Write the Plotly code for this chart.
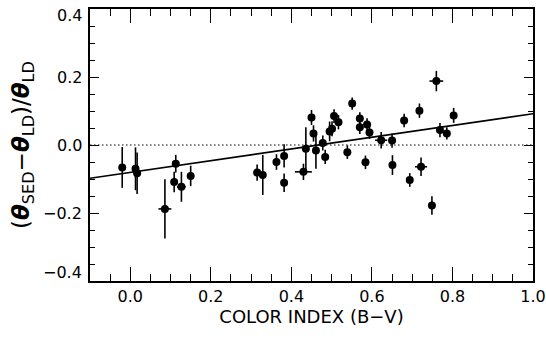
import plotly.graph_objects as go

color_index = [-0.020, 0.013, 0.017, 0.086, 0.113, 0.109, 0.127, 0.150,
               0.315, 0.329, 0.363, 0.382, 0.382, 0.430, 0.436, 0.450,
               0.455, 0.461, 0.478, 0.484, 0.495, 0.501, 0.506, 0.517,
               0.539, 0.551, 0.570, 0.570, 0.584, 0.588, 0.594, 0.623,
               0.650, 0.651, 0.680, 0.694, 0.718, 0.722, 0.749, 0.760,
               0.769, 0.786, 0.803]
rel_diff = [-0.066, -0.070, -0.083, -0.188, -0.055, -0.109, -0.123, -0.091,
            -0.081, -0.088, -0.050, -0.032, -0.111, -0.079, -0.011, 0.081,
            0.034, -0.016, 0.006, -0.035, 0.040, 0.048, 0.085, 0.067,
            -0.021, 0.122, 0.078, 0.052, -0.051, 0.060, 0.037, 0.014,
            0.013, -0.059, 0.072, -0.103, 0.101, -0.064, -0.178, 0.188,
            0.044, 0.034, 0.087]
rel_err = [0.060, 0.063, 0.061, 0.087, 0.026, 0.030, 0.044, 0.030,
           0.024, 0.059, 0.023, 0.034, 0.027, 0.024, 0.063, 0.022,
           0.024, 0.054, 0.022, 0.021, 0.029, 0.022, 0.020, 0.021,
           0.020, 0.018, 0.018, 0.020, 0.020, 0.019, 0.019, 0.024,
           0.021, 0.029, 0.020, 0.020, 0.021, 0.027, 0.027, 0.030,
           0.021, 0.018, 0.022]
ci_err = [0, 0, 0, 0.016, 0, 0, 0.011, 0,
          0, 0, 0, 0, 0, 0.021, 0, 0,
          0, 0, 0, 0, 0, 0, 0, 0,
          0, 0, 0, 0, 0, 0, 0, 0.015,
          0, 0, 0, 0, 0, 0.015, 0, 0.017,
          0, 0, 0]
fit_x = [-0.1, 1.0]
fit_y = [-0.098, 0.092]
zero_x = [-0.1, 1.0]
zero_y = [0.0, 0.0]

x_ticks = [0.0, 0.2, 0.4, 0.6, 0.8, 1.0]
x_ticktext = ["0.0", "0.2", "0.4", "0.6", "0.8", "1.0"]
y_ticks = [-0.4, -0.2, 0.0, 0.2, 0.4]
y_ticktext = ["\u22120.4", "\u22120.2", "0.0", "0.2", "0.4"]

FONT = "DejaVu Sans, Liberation Sans, Arial, sans-serif"

fig = go.Figure()
fig.add_trace(go.Scatter(x=zero_x, y=zero_y, mode="lines",
                         line=dict(color="black", width=1.2, dash="1.5px,2.5px"),
                         showlegend=False, hoverinfo="skip"))
fig.add_trace(go.Scatter(x=fit_x, y=fit_y, mode="lines",
                         line=dict(color="black", width=1.6),
                         showlegend=False, hoverinfo="skip"))
fig.add_trace(go.Scatter(
    x=color_index, y=rel_diff, mode="markers",
    marker=dict(color="black", size=8),
    error_y=dict(type="data", array=rel_err, color="black", thickness=1.6, width=0),
    error_x=dict(type="data", array=ci_err, color="black", thickness=1.6, width=0),
    showlegend=False))

common = dict(showline=True, linecolor="black", linewidth=1.5, showgrid=False,
              zeroline=False, ticks="inside", tickcolor="black", tickwidth=1.2,
              mirror="allticks", automargin=False)

fig.update_layout(
    width=546, height=338,
    margin=dict(l=90, r=13, t=9, b=57),
    paper_bgcolor="white", plot_bgcolor="white",
    font=dict(family=FONT, size=16, color="black"),
    xaxis=dict(range=[-0.1, 1.0], tickvals=x_ticks, ticktext=x_ticktext,
               tickfont=dict(size=16),
               ticklen=14, minor=dict(dtick=0.05, ticklen=7, ticks="inside",
                                      tickcolor="black", tickwidth=1.2),
               title=dict(text="COLOR INDEX (B\u2212V)", standoff=4,
                          font=dict(size=18)),
               **common),
    yaxis=dict(range=[-0.4, 0.4], tickvals=y_ticks, showticklabels=False,
               ticklen=9, minor=dict(dtick=0.05, ticklen=5, ticks="inside",
                                     tickcolor="black", tickwidth=1.2),
               title=dict(text="(<b><i>\u03b8</i></b><sub>SED</sub>\u2212<b><i>\u03b8</i></b><sub>LD</sub>)/<b><i>\u03b8</i></b><sub>LD</sub>",
                          standoff=52, font=dict(size=23)),
               **common),
)

# y tick labels (IDL style: end labels pulled inside the frame)
label_shift = {0.4: -6, -0.4: 9}
for val, txt in zip(y_ticks, y_ticktext):
    fig.add_annotation(x=0, xref="paper", y=val, yref="y", text=txt,
                       showarrow=False, xanchor="right", yanchor="middle",
                       xshift=-6, yshift=label_shift.get(val, 0),
                       font=dict(size=16, family=FONT, color="black"))

fig.write_html("out.html")
